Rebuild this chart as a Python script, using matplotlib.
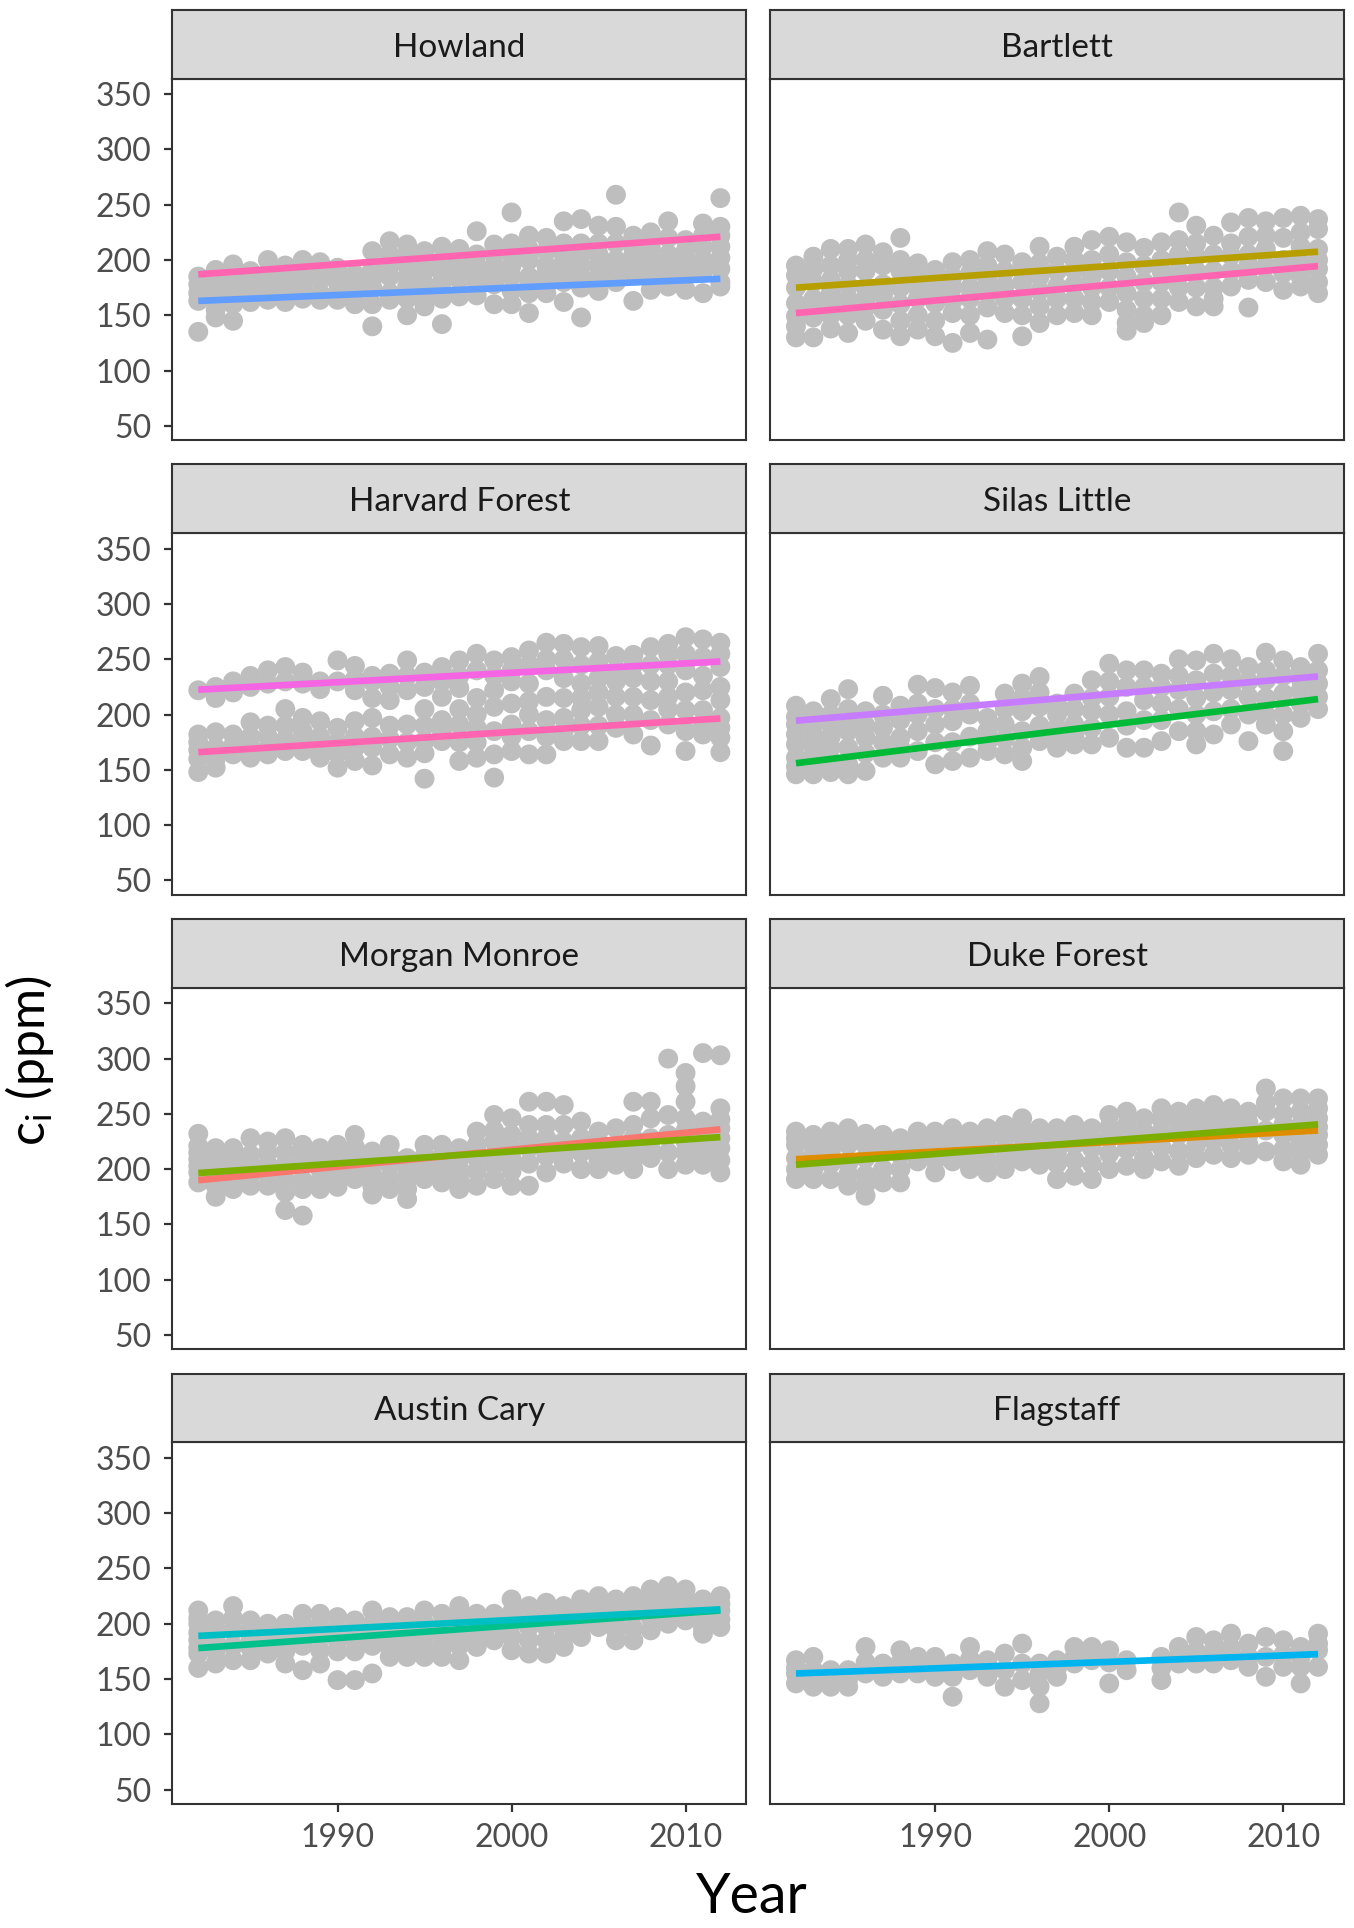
"""Intercellular CO2 (c_i) trends by site, faceted 4x2."""

import matplotlib

matplotlib.use("Agg")

import matplotlib.pyplot as plt

plt.rcParams["font.family"] = ["Lato", "DejaVu Sans"]
plt.rcParams["mathtext.fontset"] = "custom"
plt.rcParams["mathtext.rm"] = "Lato"
plt.rcParams["mathtext.it"] = "Lato:italic"

YEARS = list(range(1982, 2013))
FIT_YEARS = [1982, 2012]
SITES = [
    "Howland", "Bartlett", "Harvard Forest", "Silas Little",
    "Morgan Monroe", "Duke Forest", "Austin Cary", "Flagstaff",
]

# c_i values per year (one inner list per year, 1982..2012)
HOWLAND = [
    [185, 178, 170, 163, 135], [191, 180, 170, 162, 155, 148], [196, 185, 178, 172, 160, 145],
    [190, 184, 175, 168, 162], [200, 188, 181, 175, 164], [195, 188, 182, 172, 162],
    [200, 190, 183, 176, 165], [198, 190, 182, 170, 164], [193, 186, 180, 170, 164],
    [187, 178, 172, 165, 160], [208, 192, 183, 175, 160, 140], [217, 205, 195, 185, 170, 164],
    [214, 205, 195, 185, 176, 165, 150], [208, 198, 190, 178, 170, 158],
    [212, 195, 188, 180, 172, 165, 142], [210, 200, 190, 182, 167],
    [226, 205, 195, 188, 180, 168], [214, 205, 195, 186, 178, 160],
    [243, 215, 205, 195, 185, 172, 160], [222, 210, 200, 185, 177, 170, 152],
    [220, 208, 195, 188, 180, 170], [235, 215, 205, 198, 190, 180, 162],
    [237, 215, 205, 195, 185, 175, 148], [231, 215, 205, 195, 185, 172],
    [259, 230, 215, 200, 190, 180], [222, 212, 205, 196, 188, 163],
    [225, 212, 200, 190, 182, 173], [235, 220, 205, 195, 185, 176],
    [218, 208, 200, 192, 185, 173], [233, 222, 212, 200, 190, 170],
    [256, 230, 222, 212, 202, 192, 180, 176],
]
BARTLETT = [
    [195, 186, 175, 161, 149, 140, 130], [203, 192, 180, 165, 157, 148, 130],
    [210, 195, 182, 170, 160, 150, 138], [210, 200, 190, 177, 165, 150, 134],
    [214, 200, 190, 175, 165, 157, 145], [207, 195, 178, 168, 155, 137],
    [220, 200, 190, 175, 160, 145, 131], [197, 185, 175, 165, 150, 137],
    [191, 180, 170, 161, 145, 131], [198, 185, 175, 163, 152, 125],
    [200, 188, 175, 165, 150, 134], [208, 195, 182, 170, 157, 128],
    [205, 190, 177, 165, 152], [198, 190, 180, 165, 150, 131],
    [212, 197, 185, 172, 158, 143], [203, 190, 176, 165, 150],
    [212, 200, 191, 178, 165, 152], [218, 200, 185, 175, 162, 150],
    [221, 205, 190, 175, 162], [216, 198, 185, 170, 155, 143, 136],
    [211, 195, 180, 165, 150, 143], [216, 200, 190, 180, 165, 150],
    [243, 218, 205, 190, 175, 162], [231, 215, 203, 190, 175, 158],
    [222, 205, 190, 175, 165, 158], [234, 215, 204, 190, 176],
    [238, 221, 205, 195, 182, 157], [235, 222, 210, 195, 180],
    [238, 220, 200, 188, 173], [240, 225, 212, 198, 185, 176],
    [237, 228, 210, 200, 192, 180, 170],
]
HARVARD = [
    [222, 182, 175, 168, 160, 148], [225, 215, 184, 170, 160, 152],
    [230, 220, 182, 172, 164], [235, 225, 193, 180, 170, 161],
    [240, 228, 190, 180, 170, 164], [243, 230, 205, 190, 177, 167],
    [238, 228, 197, 185, 175, 167], [230, 223, 194, 180, 170, 161],
    [249, 230, 188, 175, 165, 152], [244, 232, 222, 194, 180, 170, 158],
    [235, 230, 215, 197, 180, 170, 154], [237, 225, 213, 190, 178, 164],
    [249, 235, 222, 191, 175, 161], [238, 225, 205, 190, 176, 165, 142],
    [243, 230, 216, 195, 185, 176], [249, 235, 224, 205, 191, 175, 158],
    [255, 240, 215, 200, 188, 175, 161], [249, 235, 222, 207, 185, 164, 143],
    [252, 240, 230, 210, 191, 180, 167], [258, 245, 228, 212, 200, 185, 164],
    [265, 250, 240, 216, 195, 180, 164], [264, 250, 233, 215, 197, 185, 176],
    [261, 245, 228, 215, 204, 190, 176], [262, 248, 233, 220, 207, 190, 176],
    [253, 240, 230, 216, 200, 188], [254, 245, 233, 216, 200, 182],
    [261, 245, 230, 213, 195, 172], [264, 255, 245, 230, 216, 205, 191],
    [270, 255, 240, 220, 204, 185, 167], [268, 252, 235, 222, 204, 190, 182],
    [265, 255, 243, 225, 213, 197, 188, 179, 166],
]
SILAS_LITTLE = [
    [208, 198, 191, 182, 173, 161, 153, 146], [203, 192, 182, 172, 164, 155, 146],
    [214, 200, 191, 180, 170, 158, 148], [223, 205, 195, 185, 170, 155, 146],
    [203, 190, 179, 165, 149], [217, 200, 188, 175, 161],
    [208, 195, 179, 170, 161], [227, 210, 200, 185, 167],
    [224, 205, 191, 175, 155], [220, 205, 194, 175, 158],
    [226, 210, 200, 180, 161], [197, 185, 175, 167],
    [219, 205, 191, 178, 164], [228, 215, 203, 185, 170, 158],
    [234, 220, 207, 190, 176], [210, 200, 188, 178, 170],
    [219, 205, 191, 180, 173], [231, 215, 203, 188, 173],
    [246, 230, 216, 200, 179], [240, 225, 203, 190, 170],
    [240, 225, 213, 195, 170], [237, 225, 210, 195, 176],
    [250, 235, 222, 205, 185], [249, 231, 215, 200, 185, 173],
    [255, 237, 220, 203, 182], [250, 235, 222, 205, 191],
    [243, 230, 216, 200, 176], [256, 240, 231, 215, 200, 191],
    [249, 235, 219, 200, 185, 167], [243, 232, 222, 210, 197],
    [255, 240, 228, 216, 205],
]
MORGAN_MONROE = [
    [232, 221, 215, 209, 203, 197, 188], [219, 210, 204, 195, 185, 175],
    [219, 210, 200, 190, 182], [228, 213, 205, 195, 185],
    [225, 215, 204, 195, 185], [228, 215, 204, 190, 179, 163],
    [222, 212, 204, 190, 182, 158], [219, 210, 200, 190, 182],
    [222, 212, 204, 195, 184], [231, 220, 210, 200, 191],
    [216, 205, 195, 185, 177], [222, 212, 204, 192, 182],
    [210, 200, 191, 182, 173], [222, 212, 204, 195, 191],
    [222, 212, 204, 196, 188], [219, 210, 200, 190, 182],
    [234, 222, 210, 198, 185], [249, 235, 225, 212, 204, 191],
    [246, 231, 220, 210, 198, 185], [261, 240, 228, 219, 205, 185],
    [261, 240, 228, 212, 197], [258, 240, 225, 213, 205],
    [243, 228, 215, 200], [234, 225, 216, 208, 200],
    [237, 222, 212, 204], [261, 240, 228, 216, 208, 200],
    [261, 246, 228, 218, 210], [300, 249, 231, 215, 200],
    [287, 275, 261, 246, 235, 225, 215, 204], [305, 243, 232, 222, 212, 204],
    [303, 255, 245, 237, 228, 219, 208, 197],
]
DUKE_FOREST = [
    [234, 228, 222, 210, 200, 191], [231, 222, 213, 200, 191],
    [234, 225, 216, 205, 191], [237, 230, 222, 205, 195, 185],
    [232, 222, 210, 195, 186, 176], [231, 222, 216, 200, 188],
    [228, 220, 213, 200, 188], [234, 228, 222, 214, 207],
    [234, 226, 219, 208, 197], [237, 228, 219, 212, 207],
    [234, 224, 213, 206, 200], [237, 228, 219, 208, 197],
    [240, 230, 219, 210, 200], [246, 236, 228, 218, 207],
    [237, 230, 222, 212, 204], [237, 226, 216, 205, 191],
    [240, 230, 222, 208, 194], [237, 228, 219, 205, 191],
    [249, 238, 228, 214, 200], [252, 240, 231, 218, 203],
    [246, 234, 222, 210, 200], [255, 245, 234, 220, 207],
    [252, 242, 231, 216, 203], [255, 245, 237, 222, 210],
    [258, 248, 240, 226, 213], [255, 245, 234, 222, 210],
    [252, 242, 231, 222, 213], [273, 260, 252, 235, 216],
    [264, 250, 240, 231, 218, 207], [264, 252, 240, 225, 215, 204],
    [264, 255, 246, 238, 231, 222, 213],
]
AUSTIN_CARY = [
    [212, 205, 200, 192, 185, 178, 173, 160], [203, 195, 185, 175, 164],
    [216, 205, 194, 180, 167], [203, 195, 188, 178, 167],
    [200, 192, 185, 178, 173], [200, 192, 185, 175, 164],
    [209, 200, 191, 180, 158], [209, 198, 188, 176, 164],
    [206, 195, 185, 175, 149], [203, 195, 185, 175, 149],
    [212, 200, 191, 180, 155], [206, 195, 185, 178, 170],
    [206, 196, 188, 178, 170], [212, 200, 191, 180, 170],
    [209, 198, 188, 178, 170], [216, 205, 191, 180, 167],
    [209, 200, 191, 185, 179], [209, 200, 194, 185],
    [222, 210, 200, 188, 176], [216, 205, 197, 185, 173],
    [219, 208, 197, 185, 173], [216, 206, 197, 188, 179],
    [222, 214, 206, 196, 188], [225, 216, 209, 203, 197],
    [222, 212, 203, 194, 185], [225, 216, 209, 196, 185],
    [231, 222, 216, 205, 194], [234, 225, 216, 208, 200],
    [231, 223, 216, 210, 203], [222, 212, 203, 196, 191],
    [225, 218, 212, 204, 197],
]
FLAGSTAFF = [
    [167, 160, 155, 146], [170, 158, 149, 143], [158, 150, 143],
    [158, 150, 143], [179, 165, 155], [164, 152],
    [176, 165, 155], [170, 162, 155], [170, 160, 152],
    [164, 152, 134], [179, 168, 158], [167, 160, 152],
    [173, 158, 143], [182, 164, 149], [164, 155, 143, 128],
    [167, 160, 152], [179, 170, 164], [179, 172, 167],
    [176, 165, 146], [167, 158], [],
    [170, 160, 149], [179, 170, 164], [188, 175, 164],
    [185, 175, 164], [191, 178, 167], [182, 170, 161],
    [188, 170, 152], [185, 172, 161], [179, 170, 161, 146],
    [191, 182, 176, 161],
]
SITE_POINTS = [HOWLAND, BARTLETT, HARVARD, SILAS_LITTLE,
               MORGAN_MONROE, DUKE_FOREST, AUSTIN_CARY, FLAGSTAFF]

# fitted trend per species: colour, value at 1982, value at 2012
FIT_COLORS = [
    ["#619CFF", "#FF64B0"],
    ["#B79F00", "#FF64B0"],
    ["#F564E3", "#FF64B0"],
    ["#00BA38", "#C77CFF"],
    ["#F8766D", "#7CAE00"],
    ["#DE8C00", "#7CAE00"],
    ["#00C08B", "#00BFC4"],
    ["#00B4F0"],
]
FIT_START = [[163, 187], [175, 152], [222.5, 166], [156, 194.5],
             [190, 196.5], [209, 204], [178, 189], [155]]
FIT_END = [[183, 221], [207.5, 194.5], [248, 196.5], [214, 234.5],
           [236, 229], [235, 240.5], [212, 213], [172.5]]

Y_TICKS = [50, 100, 150, 200, 250, 300, 350]
X_TICKS = [1990, 2000, 2010]

W, H = 1101.0, 1568.0
COL_X = [140.0, 626.0]
PANEL_W = 467.0
ROW_PITCH = 369.7
STRIP_TOP = 8.0
STRIP_H = 56.0
PANEL_H = 294.0

EDGE = "#333333"
TEXT = "#4D4D4D"

fig = plt.figure(figsize=(13.54, 19.28), dpi=100)

for index, site in enumerate(SITES):
    row, col = divmod(index, 2)
    top = STRIP_TOP + ROW_PITCH * row
    ax = fig.add_axes([
        COL_X[col] / W,
        1 - (top + STRIP_H + PANEL_H) / H,
        PANEL_W / W,
        PANEL_H / H,
    ])
    strip = fig.add_axes([COL_X[col] / W, 1 - (top + STRIP_H) / H, PANEL_W / W, STRIP_H / H])
    strip.set_facecolor("#D9D9D9")
    strip.set_xticks([])
    strip.set_yticks([])
    for spine in strip.spines.values():
        spine.set_color(EDGE)
        spine.set_linewidth(1.5)
    strip.text(0.5, 0.45, site, ha="center", va="center", fontsize=24, color="#1A1A1A",
               transform=strip.transAxes)

    xs, ys = [], []
    for year, values in zip(YEARS, SITE_POINTS[index]):
        xs.extend([year] * len(values))
        ys.extend(values)
    ax.scatter(xs, ys, s=205, color="#BEBEBE", edgecolors="none", zorder=2)
    for color, start, end in zip(FIT_COLORS[index], FIT_START[index], FIT_END[index]):
        ax.plot(FIT_YEARS, [start, end], color=color, linewidth=4.8,
                solid_capstyle="butt", zorder=3)

    ax.set_xlim(1980.5, 2013.5)
    ax.set_ylim(37, 364)
    ax.set_yticks(Y_TICKS)
    ax.set_xticks(X_TICKS)
    for spine in ax.spines.values():
        spine.set_color(EDGE)
        spine.set_linewidth(1.5)

    if col == 0:
        ax.tick_params(axis="y", length=6, width=1.6, color=EDGE, labelsize=23,
                       labelcolor=TEXT, pad=9)
    else:
        ax.tick_params(axis="y", length=0, labelleft=False)
    if row == 3:
        ax.tick_params(axis="x", length=6, width=1.6, color=EDGE, labelsize=23,
                       labelcolor=TEXT, pad=8)
    else:
        ax.tick_params(axis="x", length=0, labelbottom=False)

fig.text(0.022, 0.45, r"$\mathrm{c_i}$ (ppm)", rotation=90, ha="center", va="center",
         fontsize=36, color="black")
fig.text(0.555, 0.016, "Year", ha="center", va="center", fontsize=40, color="black")

fig.savefig("out.png", dpi=100)
plt.close(fig)
